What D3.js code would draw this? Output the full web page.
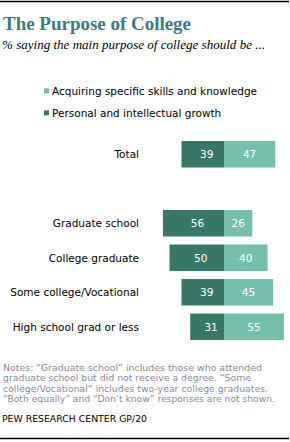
<!DOCTYPE html>
<html><head><meta charset="utf-8">
<script src="https://cdn.jsdelivr.net/npm/d3@7"></script>
<style>body{margin:0;background:#fff}svg{display:block}</style>
</head><body>
<script>
const categories = ["Total", "", "Graduate school", "College graduate", "Some college/Vocational", "High school grad or less"];
const personal = [39, null, 56, 50, 39, 31];
const skills = [47, null, 26, 40, 45, 55];
const seriesNames = ["Acquiring specific skills and knowledge", "Personal and intellectual growth"];
const colors = {skills: "#76bfac", personal: "#387868"};
const notes = ["Notes: \u201cGraduate school\u201d includes those who attended",
  "graduate school but did not receive a degree. \u201cSome",
  "college/Vocational\u201d includes two-year college graduates.",
  "\u201cBoth equally\u201d and \u201cDon\u2019t know\u201d  responses are not shown."];
const noteWidths = [259, 248, 265, 272];

const W = 290, H = 442;
const svg = d3.select("body").append("svg").attr("width", W).attr("height", H);

svg.append("line").attr("x1",0).attr("x2",289).attr("y1",1.5).attr("y2",1.5).attr("stroke","#000").attr("stroke-width",1.4);
svg.append("line").attr("x1",0).attr("x2",289).attr("y1",438.5).attr("y2",438.5).attr("stroke","#000").attr("stroke-width",1.4);

svg.append("text").attr("x",3).attr("y",30).text("The Purpose of College")
  .attr("font-family","Liberation Serif").attr("font-weight","bold").attr("font-size",18).attr("fill","#3a7d7b")
  .attr("textLength",188).attr("lengthAdjust","spacingAndGlyphs");
svg.append("text").attr("x",2).attr("y",49).text("% saying the main purpose of college should be ...")
  .attr("font-family","Liberation Serif").attr("font-style","italic").attr("font-size",12.5).attr("fill","#000")
  .attr("textLength",263).attr("lengthAdjust","spacingAndGlyphs");

const legend = [{name: seriesNames[0], c: colors.skills, y: 95}, {name: seriesNames[1], c: colors.personal, y: 117}];
legend.forEach(l => {
  svg.append("rect").attr("x",44).attr("y",l.y-6.7).attr("width",5).attr("height",5).attr("fill",l.c);
  svg.append("text").attr("x",52).attr("y",l.y).text(l.name)
    .attr("font-family","DejaVu Sans").attr("font-size",10.5).attr("fill","#000");
});

const x = d3.scaleLinear().domain([0, 100]).range([0, 109]);
const cx = 224;
const y = d3.scaleBand().domain(categories).range([141, 340]).paddingInner(0.232).paddingOuter(0);

const rows = categories.map((c,i) => ({c, p: personal[i], s: skills[i]})).filter(d => d.p != null);

const g = svg.append("g");
g.selectAll(".lab").data(rows).enter().append("text")
  .attr("x",139).attr("y", d => y(d.c) + y.bandwidth()/2 + 4)
  .attr("text-anchor","end").attr("font-family","DejaVu Sans").attr("font-size",10.5).attr("fill","#000")
  .text(d => d.c);
g.selectAll(".pb").data(rows).enter().append("rect")
  .attr("x", d => cx - x(d.p)).attr("y", d => y(d.c)).attr("width", d => x(d.p)).attr("height", y.bandwidth())
  .attr("fill", colors.personal);
g.selectAll(".sb").data(rows).enter().append("rect")
  .attr("x", cx).attr("y", d => y(d.c)).attr("width", d => x(d.s)).attr("height", y.bandwidth())
  .attr("fill", colors.skills);
g.selectAll(".pv").data(rows).enter().append("text")
  .attr("x", d => cx - x(d.p)/2 + 4).attr("y", d => y(d.c) + y.bandwidth()/2 + 4)
  .attr("text-anchor","middle").attr("font-family","DejaVu Sans").attr("font-size",10.5).attr("fill","#fff")
  .text(d => d.p);
g.selectAll(".sv").data(rows).enter().append("text")
  .attr("x", d => cx + x(d.s)/2).attr("y", d => y(d.c) + y.bandwidth()/2 + 4)
  .attr("text-anchor","middle").attr("font-family","DejaVu Sans").attr("font-size",10.5).attr("fill","#fff")
  .text(d => d.s);

notes.forEach((t,i) => {
  svg.append("text").attr("x",3).attr("y",370.5 + i*10.6).text(t)
    .attr("font-family","DejaVu Sans Condensed, DejaVu Sans").attr("font-size",9.3).attr("fill","#8c8a99")
    .attr("textLength",noteWidths[i]).attr("lengthAdjust","spacingAndGlyphs");
});
svg.append("text").attr("x",2).attr("y",422).text("PEW RESEARCH  CENTER GP/20")
  .attr("font-family","DejaVu Sans").attr("font-size",8.5).attr("fill","#000")
  .attr("textLength",145).attr("lengthAdjust","spacingAndGlyphs");
</script>
</body></html>
